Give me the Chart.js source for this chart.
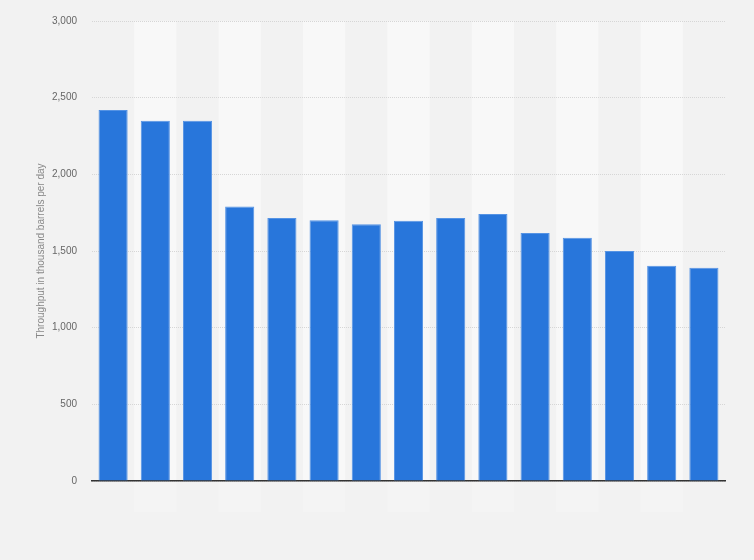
<!DOCTYPE html>
<html>
<head>
<meta charset="utf-8">
<script src="https://cdn.jsdelivr.net/npm/chart.js@4"></script>
<style>
  html, body { margin: 0; padding: 0; background: #f2f2f2; }
  #wrap { width: 754px; height: 560px; }
</style>
</head>
<body>
<div id="wrap"><canvas id="throughput"></canvas></div>
<script>
// categories have no visible labels in the picture
var categories = ["", "", "", "", "", "", "", "", "", "", "", "", "", "", ""];
var throughput = [2420, 2350, 2350, 1790, 1715, 1700, 1675, 1697, 1716, 1742, 1618, 1586, 1500, 1404, 1391];
var yTicks = [0, 500, 1000, 1500, 2000, 2500, 3000];
var yTitle = "Throughput in thousand barrels per day";

// alternate light column bands behind the bars
var stripes = {
    id: "stripes",
    beforeDraw: function (chart) {
        var ctx = chart.ctx, area = chart.chartArea, x = chart.scales.x;
        var w = (area.right - area.left) / categories.length;
        ctx.save();
        for (var i = 1; i < categories.length; i += 2) {
            var cx = x.getPixelForValue(i);
            ctx.fillStyle = "#f8f8f8";
            ctx.fillRect(cx - w / 2, area.top, w, area.bottom - area.top);
            ctx.fillStyle = "#f4f4f4";
            ctx.fillRect(cx - w / 2, area.bottom, w, 31);
        }
        ctx.restore();
    }
};

var ctx = document.getElementById("throughput").getContext("2d");
var chart = new Chart(ctx, {
    type: "bar",
    data: {
        labels: categories,
        datasets: [
            {
                label: "Throughput",
                data: throughput,
                backgroundColor: "#2876db",
                borderColor: "#5593e4",
                borderWidth: { top: 1, left: 1, right: 1, bottom: 0 },
                barPercentage: 0.69,
                categoryPercentage: 1.0
            }
        ]
    },
    options: {
        responsive: true,
        maintainAspectRatio: false,
        animation: false,
        layout: { padding: { top: 20, right: 29, bottom: 79, left: 35 } },
        plugins: { legend: { display: false }, tooltip: { enabled: false } },
        scales: {
            x: {
                grid: { display: false, drawTicks: false },
                ticks: { display: false },
                border: { display: true, color: "#333333", width: 1.5 },
                afterFit: function (s) { s.height = 0; }
            },
            y: {
                min: 0,
                max: 3000,
                afterBuildTicks: function (s) {
                    s.ticks = yTicks.map(function (v) { return { value: v }; });
                },
                grid: { color: "#d6d6d6", drawTicks: false },
                border: { display: false, dash: [1, 1] },
                ticks: {
                    padding: 15,
                    color: "#666666",
                    font: { family: "Liberation Sans", size: 10 },
                    callback: function (v) { return v.toLocaleString("en-US"); }
                },
                title: {
                    display: true,
                    text: yTitle,
                    color: "#888888",
                    font: { family: "Liberation Sans", size: 10 },
                    padding: { top: 0, bottom: 0 }
                },
                afterFit: function (s) { s.width = 57; }
            }
        }
    },
    plugins: [stripes]
});
</script>
</body>
</html>
